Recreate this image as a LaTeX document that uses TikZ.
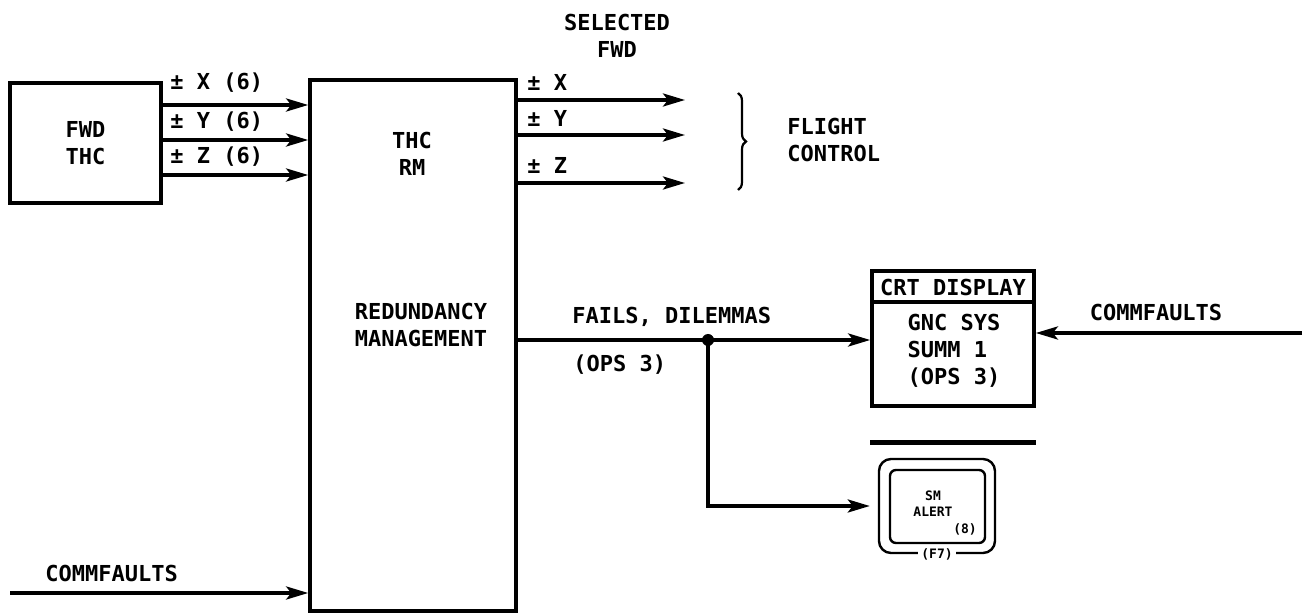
\documentclass[tikz,border=0pt]{standalone}
\usepackage{fontspec}
\setmonofont{DejaVu Sans Mono}
\usetikzlibrary{arrows.meta}
\usetikzlibrary{calc}
\usetikzlibrary{positioning}
\usetikzlibrary{decorations.pathreplacing}

\newcommand{\lbl}{\ttfamily\bfseries\fontsize{11}{13.5}\selectfont}
\newcommand{\tinylbl}{\ttfamily\bfseries\fontsize{6.5}{8}\selectfont}

\begin{document}
\begin{tikzpicture}[x=0.5pt, y=-0.5pt,
        every node/.style={font=\lbl, inner sep=0pt, align=center},
        box/.style={draw, line width=1.8pt},
        sig/.style={line width=1.8pt, -{Stealth[length=11pt,width=6.5pt,inset=2.5pt]}},
      ]
      \useasboundingbox (0,0) rectangle (1307,614);

      \node[box, minimum width=75.5pt, minimum height=60pt] (fwd) at (85.5,143) {FWD\\THC};
      \node[box, minimum width=103pt, minimum height=265.5pt] (rm) at (413,345.5) {};
      \node (rmtitle) at (412,154) {THC\\RM};
      \node (rmname) at (421,324.5) {REDUNDANCY\\MANAGEMENT};

      \node[box, minimum width=81pt, minimum height=67.5pt] (crt) at (953,338.5) {};
      \draw[line width=1.8pt] (crt.west |- 0,302) -- (crt.east |- 0,302);
      \node (crthead) at (953,287) {CRT DISPLAY};
      \node[align=left] (crtbody) at (954,351) {GNC SYS\\SUMM 1\\(OPS 3)};

      \draw[line width=2.5pt] (crt.west |- 0,443) -- (crt.east |- 0,443);
      \node[draw, line width=1.2pt, rounded corners=6pt, minimum width=58pt, minimum height=47pt] (alert) at (937,506) {};
      \node[draw, line width=1.2pt, rounded corners=3pt, minimum width=47.5pt, minimum height=36.5pt] (alertin) at (937.5,506.5) {};
      \node[font=\tinylbl] (alerttxt) at (933,503.5) {SM\\ALERT};
      \node[font=\tinylbl] (alertnum) at (965,529) {(8)};
      \node[font=\tinylbl, fill=white, inner xsep=1.5pt] (alertpnl) at (alert.south) {(F7)};

      % fwd thc -> rm
      \foreach \y/\ax/\ly in {105/X/83, 140/Y/122, 175/Z/157} {
        \draw[sig] (fwd.east |- 0,\y) -- (rm.west |- 0,\y);
        \node[anchor=west] at (170,\ly) {± \ax\ (6)};
      }

      % rm -> flight control
      \foreach \y/\ax/\ly [count=\i] in {100/X/82, 135/Y/118, 183/Z/165} {
        \coordinate (out\i) at (685,\y);
        \draw[sig] (rm.east |- out\i) -- (out\i);
        \node[anchor=west] at (527,\ly) {± \ax};
      }
      \node (sel) at (617,35.5) {SELECTED\\FWD};
      \draw[decorate, decoration={brace, amplitude=4pt}, line width=1.1pt] (738,93) -- (738,190);
      \node[anchor=west, align=left] (fc) at (787,139.5) {FLIGHT\\CONTROL};

      % fails
      \coordinate (jn) at (708,340);
      \draw[sig] (rm.east |- jn) -- (crt.west |- jn);
      \fill (jn) circle (3pt);
      \draw[sig] (jn) |- ($(alert.west)+(-4pt,0)$);
      \node[anchor=west] (fails) at (572,317) {FAILS, DILEMMAS};
      \node[anchor=west] (failsops) at (573,365) {(OPS 3)};

      % commfaults
      \coordinate (cfl) at (10,593);
      \draw[sig] (cfl) -- (rm.west |- cfl);
      \node[anchor=west] (cfltxt) at (45,573) {COMMFAULTS};
      \coordinate (cfr) at (1302,333);
      \draw[sig] (cfr) -- (crt.east |- cfr);
      \node (cfrtxt) at (1156,312) {COMMFAULTS};
    \end{tikzpicture}
\end{document}
